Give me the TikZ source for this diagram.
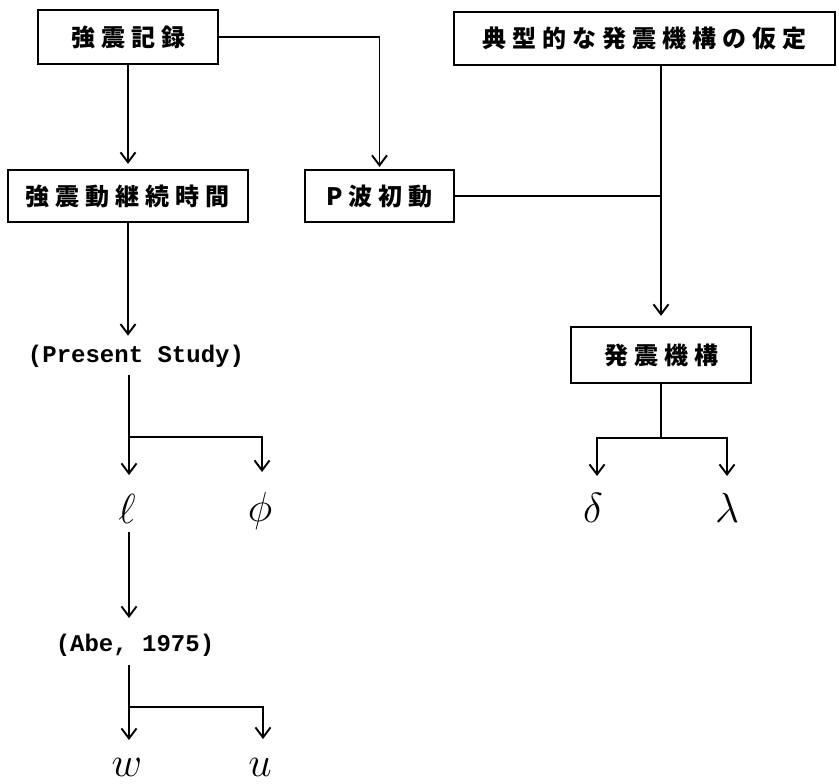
\documentclass[tikz,border=0pt]{standalone}
\usepackage{fix-cm}
\usepackage{fontspec}
\usetikzlibrary{arrows.meta}
\newfontfamily\cjk{Noto Sans CJK JP}
\setmonofont{Liberation Mono}
\def\spc#1{\spcA#1\relax}
\def\spcA#1#2{#1\ifx\relax#2\else\kern6pt\expandafter\spcA\expandafter#2\fi}
\begin{document}
\begin{tikzpicture}[x=1pt,y=-1pt,
  box/.style={draw, line width=2.2pt, inner sep=0pt, font=\cjk\bfseries\fontsize{24}{27}\selectfont},
  lbl/.style={inner sep=0pt, font=\ttfamily\bfseries\fontsize{24}{27}\selectfont},
  sym/.style={inner sep=0pt, font=\fontsize{42}{46}\selectfont},
  ln/.style={line width=1.9pt},
  arr/.style={line width=1.9pt, -{Straight Barb[length=10pt,width=15pt]}}]
\useasboundingbox (0,0) rectangle (839,784);
% boxes
\node[box, minimum width=180pt, minimum height=54pt] (rec) at (128,37) {\spc{強震記録}};
\node[box, minimum width=381pt, minimum height=53pt] (typ) at (644.5,38.5) {\spc{典型的な発震機構の仮定}};
\node[box, minimum width=240pt, minimum height=52pt] (dur) at (128,196) {\spc{強震動継続時間}};
\node[box, minimum width=149pt, minimum height=52pt] (pw) at (379.5,196) {\spc{P波初動}};
\node[box, minimum width=180pt, minimum height=56pt] (mech) at (661,355) {\spc{発震機構}};
% labels
\node[lbl] (ps) at (136,356) {(Present Study)};
\node[lbl] (abe) at (135,645) {(Abe, 1975)};
\node[sym, anchor=base] (ell) at (127,523) {$\ell$};
\node[sym, anchor=base] (phi) at (260,521) {$\phi$};
\node[sym, anchor=base] (del) at (593,522) {$\delta$};
\node[sym, anchor=base] (lam) at (727,522) {$\lambda$};
\node[sym, anchor=base] (w) at (127,776) {$w$};
\node[sym, anchor=base] (u) at (260,776) {$u$};
\coordinate (b1) at (129,437);
\coordinate (b2) at (661,438);
\coordinate (b3) at (129,707);
% connectors
\draw[arr, shorten >=5pt] (rec.south) -- (dur.north);
\draw[arr, shorten >=2pt] (rec.east) -| (pw.north);
\draw[ln] (pw.east) -- (pw.east -| mech.north);
\draw[arr, shorten >=10pt] (typ.south -| mech.north) -- (mech.north);
\draw[arr, shorten >=9pt] (dur.south) -- (dur.south |- ps.north);
\draw[arr, shorten <=8pt] (ps.south -| b1) -- (129,475);
\draw[arr] (b1) -| (262,472);
\draw[ln] (mech.south) -- (b2);
\draw[arr] (b2) -| (597,476);
\draw[arr] (b2) -| (727,476);
\draw[arr, shorten <=9pt] (ell.south -| b1) -- (129,618);
\draw[arr, shorten <=9pt] (abe.south -| b3) -- (129,740);
\draw[arr] (b3) -| (263,739);
\end{tikzpicture}
\end{document}
